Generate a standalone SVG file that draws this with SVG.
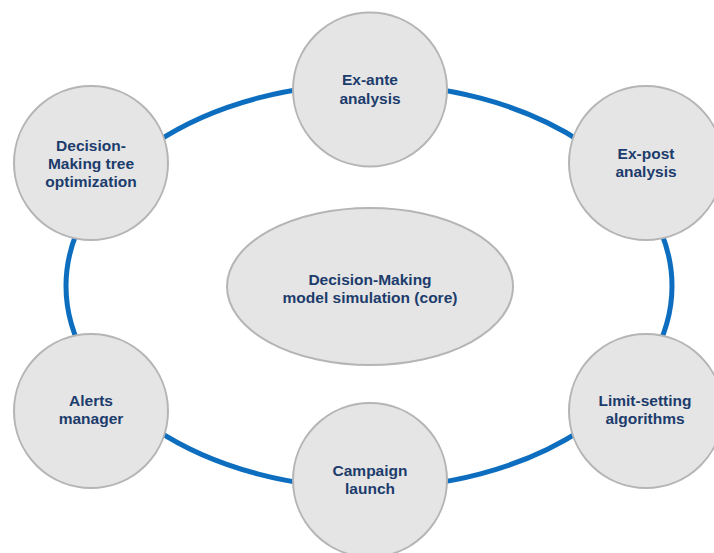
<svg xmlns="http://www.w3.org/2000/svg" width="714" height="553" viewBox="0 0 714 553">
  <style>
    .node { fill: #e5e5e5; stroke: #b5b5b5; stroke-width: 2; }
    .lbl { font-family: "Liberation Sans", Arial, sans-serif; font-weight: bold; font-size: 15.5px; fill: #1c3c6c; text-anchor: middle; }
    .ring { fill: none; stroke: #0d6ebf; stroke-width: 5; }
  </style>
  <rect width="714" height="553" fill="#ffffff"/>
  <g id="connectors">
    <ellipse class="ring" cx="369" cy="286" rx="303" ry="202"/>
  </g>
  <g id="core">
    <ellipse class="node" cx="370" cy="286.5" rx="143" ry="78.5"/>
    <text class="lbl" x="370" y="285"><tspan x="370">Decision-Making</tspan><tspan x="370" dy="18">model simulation (core)</tspan></text>
  </g>
  <g id="ex-ante">
    <circle class="node" cx="370" cy="89.5" r="77"/>
    <text class="lbl" x="370" y="85"><tspan x="370">Ex-ante</tspan><tspan x="370" dy="19">analysis</tspan></text>
  </g>
  <g id="ex-post">
    <circle class="node" cx="646" cy="163" r="77"/>
    <text class="lbl" x="646" y="159"><tspan x="646">Ex-post</tspan><tspan x="646" dy="18">analysis</tspan></text>
  </g>
  <g id="limit-setting">
    <circle class="node" cx="646" cy="411" r="77"/>
    <text class="lbl" x="645" y="406"><tspan x="645">Limit-setting</tspan><tspan x="645" dy="18">algorithms</tspan></text>
  </g>
  <g id="campaign">
    <circle class="node" cx="370" cy="480" r="77"/>
    <text class="lbl" x="370" y="476"><tspan x="370">Campaign</tspan><tspan x="370" dy="18">launch</tspan></text>
  </g>
  <g id="alerts">
    <circle class="node" cx="91" cy="411" r="77"/>
    <text class="lbl" x="91" y="406"><tspan x="91">Alerts</tspan><tspan x="91" dy="18">manager</tspan></text>
  </g>
  <g id="tree">
    <circle class="node" cx="91" cy="163" r="77"/>
    <text class="lbl" x="91" y="151"><tspan x="91">Decision-</tspan><tspan x="91" dy="18">Making tree</tspan><tspan x="91" dy="18">optimization</tspan></text>
  </g>
</svg>
